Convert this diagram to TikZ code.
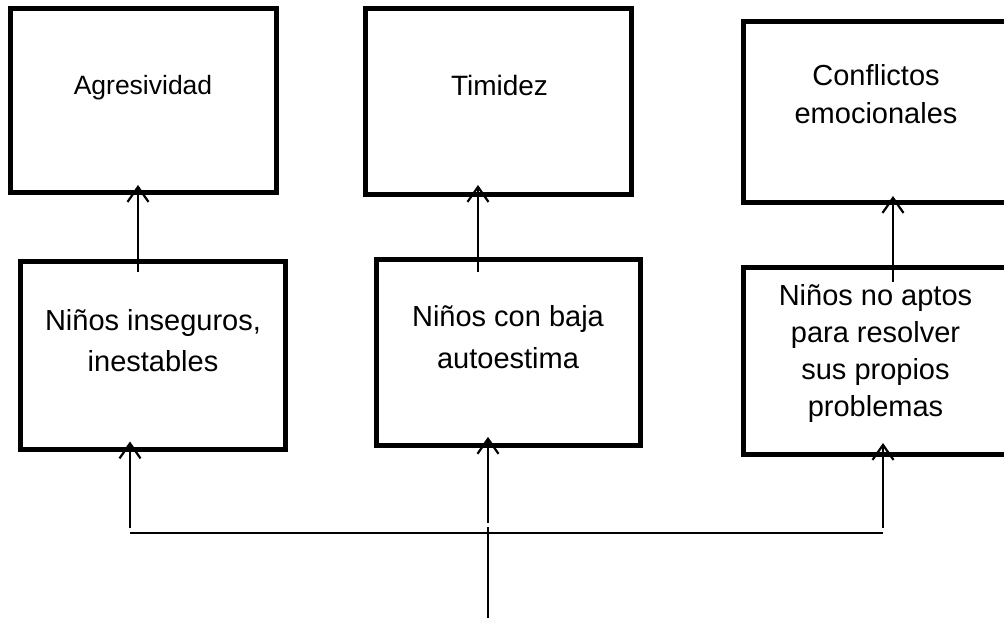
\documentclass[tikz,border=0pt]{standalone}
\usepackage{fontspec}
\setmainfont{Liberation Sans}
\usetikzlibrary{arrows.meta,calc}
\newcommand{\mylines}[3]{{\fontsize{#1}{#2}\selectfont\setlength{\tabcolsep}{0pt}\begin{tabular}[t]{c}#3\end{tabular}}}
\begin{document}
\begin{tikzpicture}[x=1pt,y=-1pt,
  box/.style={draw,line width=5pt,rectangle,inner sep=0pt,outer sep=0pt},
  txt/.style={anchor=base,inner sep=0pt},
  arr/.style={line width=2.2pt,-{Straight Barb[length=15pt,width=21pt]}},
  ln/.style={line width=2pt},
  hln/.style={line width=1.6pt}]
\useasboundingbox (0,0) rectangle (1004,618);
\fill[white] (0,0) rectangle (1004,618);
% top boxes
\node[box,minimum width=266pt,minimum height=184pt] (b1) at (143.5,100.5) {};
\node[box,minimum width=266pt,minimum height=185.5pt] (b2) at (498,101.25) {};
\node[box,minimum width=267pt,minimum height=180pt] (b3) at (876.5,112) {};
% bottom boxes
\node[box,minimum width=265pt,minimum height=188.5pt] (b4) at (153,355.25) {};
\node[box,minimum width=264pt,minimum height=186pt] (b5) at (508,352.5) {};
\node[box,minimum width=267pt,minimum height=186.5pt] (b6) at (876.5,360.75) {};
% texts
\node[txt] (t1) at (143,95) {\mylines{26.5}{32}{Agresividad}};
\node[txt] (t2) at (499.5,95.7) {\mylines{28}{34}{Timidez}};
\node[txt] (t3) at (876,85) {\mylines{29}{38}{Conflictos\\emocionales}};
\node[txt] (t4) at (153,330) {\mylines{29}{41.5}{Niños inseguros,\\inestables}};
\node[txt] (t5) at (508,326.7) {\mylines{29}{41.3}{Niños con baja\\autoestima}};
\node[txt] (t6) at (875.5,305) {\mylines{29}{37.3}{Niños no aptos\\para resolver\\sus propios\\problemas}};
% arrows between rows
\coordinate (s1) at (138,272);
\coordinate (s2) at (478,272);
\coordinate (s3) at (893,282);
\draw[arr] (s1) -- ($(s1 |- b1.south)+(0,-7.5)$);
\draw[arr] (s2) -- ($(s2 |- b2.south)+(0,-9)$);
\draw[arr] (s3) -- ($(s3 |- b3.south)+(0,-6)$);
% bottom tree
\coordinate (h1) at (130,533);
\coordinate (h2) at (488,527);
\coordinate (h3) at (883,533);
\coordinate (root) at (488,618);
\coordinate (u1) at (130,528);
\coordinate (u2) at (488,523);
\coordinate (u3) at (883,528);
\draw[hln] (h1) -- (h3);
\draw[ln] (root) -- (h2);
\draw[arr] (u1) -- ($(u1 |- b4.south)+(0,-8)$);
\draw[arr] (u2) -- ($(u2 |- b5.south)+(0,-8.6)$);
\draw[arr] (u3) -- ($(u3 |- b6.south)+(0,-11)$);
\end{tikzpicture}
\end{document}
